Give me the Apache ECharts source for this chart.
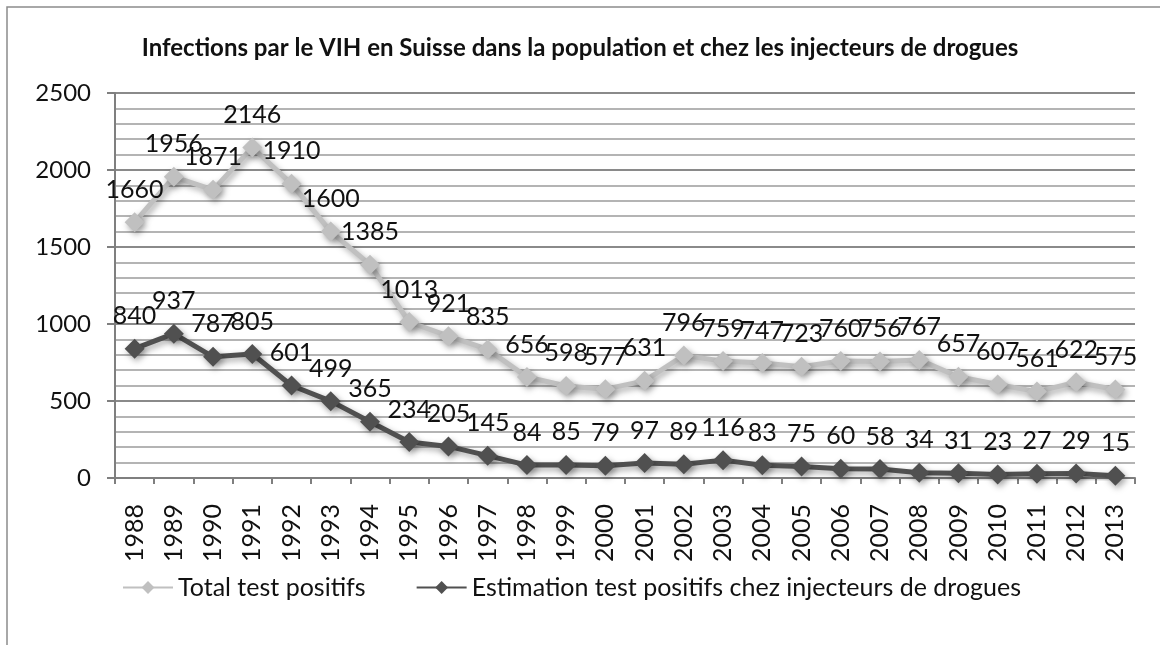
<!DOCTYPE html>
<html>
<head>
<meta charset="utf-8">
<script src="https://cdn.jsdelivr.net/npm/echarts@6/dist/echarts.min.js"></script>
<style>
  html, body { margin: 0; padding: 0; background: #fff; }
  #main { width: 1160px; height: 645px; }
</style>
</head>
<body>
<div id="main"></div>
<script>
// données
var annees = ['1988', '1989', '1990', '1991', '1992', '1993', '1994', '1995', '1996', '1997', '1998', '1999', '2000',
  '2001', '2002', '2003', '2004', '2005', '2006', '2007', '2008', '2009', '2010', '2011', '2012', '2013'];
var totalPositifs = [1660, 1956, 1871, 2146, 1910, 1600, 1385, 1013, 921, 835, 656, 598, 577,
  631, 796, 759, 747, 723, 760, 756, 767, 657, 607, 561, 622, 575];
var injecteurs = [840, 937, 787, 805, 601, 499, 365, 234, 205, 145, 84, 85, 79,
  97, 89, 116, 83, 75, 60, 58, 34, 31, 23, 27, 29, 15];
var nomsSeries = ['Total test positifs', 'Estimation test positifs chez injecteurs de drogues'];

var police = 'Lato, "Open Sans", sans-serif';
var myChart = echarts.init(document.getElementById('main'));

function serie(nom, data, couleur) {
    return {
        name: nom,
        type: 'line',
        data: data,
        symbol: 'diamond',
        symbolSize: 20,
        lineStyle: {
            width: 5,
            color: couleur,
            shadowBlur: 6,
            shadowColor: 'rgba(0,0,0,0.35)',
            shadowOffsetX: 2,
            shadowOffsetY: 3
        },
        itemStyle: {
            color: couleur,
            borderWidth: 0,
            shadowBlur: 6,
            shadowColor: 'rgba(0,0,0,0.35)',
            shadowOffsetX: 2,
            shadowOffsetY: 3
        },
        label: {
            show: true,
            position: 'top',
            distance: 10,
            color: '#111',
            fontFamily: police,
            fontSize: 25
        },
        emphasis: { disabled: true },
        animation: false
    };
}

var option = {
    backgroundColor: '#fff',
    title: {
        text: 'Infections par le VIH en Suisse dans la population et chez les injecteurs de drogues',
        left: 'center',
        top: 31,
        textStyle: {
            fontFamily: police,
            fontWeight: 'bold',
            fontSize: 24,
            color: '#111'
        }
    },
    graphic: [{
        type: 'rect',
        shape: { x: 7, y: 7, width: 1200, height: 700 },
        style: { fill: 'none', stroke: '#8c8c8c', lineWidth: 1.5 },
        silent: true
    }],
    legend: {
        data: nomsSeries,
        left: 117,
        top: 570,
        itemWidth: 50,
        itemHeight: 16,
        itemGap: 50,
        textStyle: {
            fontFamily: police,
            fontSize: 25,
            color: '#111'
        }
    },
    grid: {
        left: 115,
        right: 25,
        top: 93,
        bottom: 167
    },
    xAxis: {
        type: 'category',
        data: annees,
        boundaryGap: true,
        axisLine: { lineStyle: { color: '#7f7f7f', width: 2 } },
        axisTick: { show: true, length: 6, lineStyle: { color: '#7f7f7f', width: 2 } },
        axisLabel: {
            rotate: 90,
            margin: 26,
            fontFamily: police,
            fontSize: 25,
            color: '#111'
        }
    },
    yAxis: {
        type: 'value',
        min: 0,
        max: 2500,
        interval: 500,
        axisLine: { show: true, lineStyle: { color: '#7f7f7f', width: 2 } },
        axisTick: { show: true, length: 8, lineStyle: { color: '#7f7f7f', width: 2 } },
        axisLabel: {
            margin: 24,
            fontFamily: police,
            fontSize: 24,
            color: '#111',
            formatter: function (v) { return String(v); }
        },
        splitLine: { lineStyle: { color: '#8a8a8a', width: 2 } },
        minorTick: { show: false, splitNumber: 5 },
        minorSplitLine: { show: true, lineStyle: { color: '#b4b4b4', width: 2 } }
    },
    color: ['#c0c0c0', '#505050'],
    series: [
        serie(nomsSeries[0], totalPositifs, '#c0c0c0'),
        serie(nomsSeries[1], injecteurs, '#505050')
    ]
};
myChart.setOption(option);
</script>
</body>
</html>
